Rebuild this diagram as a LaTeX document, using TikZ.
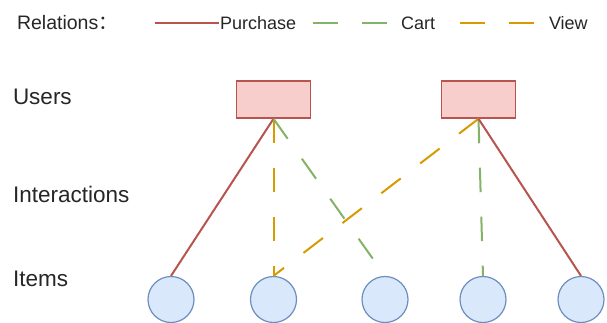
\documentclass[tikz,border=0pt]{standalone}
\usepackage{fontspec}
\setmainfont{Liberation Sans}
\newfontfamily\cjkfont{Noto Sans CJK SC}
\usetikzlibrary{positioning}
\definecolor{purchasered}{HTML}{B85450}
\definecolor{userfill}{HTML}{F8CECC}
\definecolor{cartgreen}{HTML}{82B366}
\definecolor{viewyellow}{HTML}{D79B00}
\definecolor{itemblue}{HTML}{6C8EBF}
\definecolor{itemfill}{HTML}{DAE8FC}
\begin{document}
\begin{tikzpicture}[
  x=1pt, y=-1pt,
  line width=2pt,
  user/.style={draw=purchasered, fill=userfill, line width=1.5pt,
    minimum width=74pt, minimum height=37pt, inner sep=0pt},
  item/.style={circle, draw=itemblue, fill=itemfill, line width=1.2pt,
    minimum size=46pt, inner sep=0pt},
  level/.style={anchor=west, inner sep=0pt, text=black!85,
    font=\fontsize{22.5}{26}\selectfont},
  legend/.style={anchor=west, inner sep=0pt, text=black!85,
    font=\fontsize{18}{22}\selectfont},
  purchase/.style={draw=purchasered},
  cart/.style={draw=cartgreen, dash pattern=on 24.5pt off 24.5pt},
  view/.style={draw=viewyellow, dash pattern=on 24.5pt off 24.5pt},
]
\useasboundingbox (0,0) rectangle (607,322);

% legend
\node[anchor=west, inner sep=0pt, text=black!85, font=\fontsize{19.5}{23}\selectfont]
  (relations) at (16,23) {Relations{\cjkfont ：}};
\coordinate (purchasestart) at (155,23);
\node[legend] (purchasetext) at (219,23) {Purchase};
\draw[purchase] (purchasestart) -- (purchasetext.west);
\coordinate (cartstart) at (313,23);
\coordinate (cartend) at (387,23);
\draw[cart] (cartstart) -- (cartend);
\node[legend] (carttext) at (400,23) {Cart};
\coordinate (viewstart) at (460,23);
\coordinate (viewend) at (534,23);
\draw[view] (viewstart) -- (viewend);
\node[legend] (viewtext) at (548,23) {View};

% levels
\node[level] (users) at (12,97) {Users};
\node[level] (interactions) at (12,194) {Interactions};
\node[level] (items) at (12,279) {Items};

% users and items
\node[user] (user1) at (273.5,99.5) {};
\node[user] (user2) at (478.5,99.5) {};
\foreach \x [count=\i] in {171,273.5,385,483,581} {
  \node[item] (item\i) at (\x,299.5) {};
}

% relations
\draw[purchase] (user1.south) -- (item1.north);
\draw[view] (user1.south) -- (item2.north);
\draw[cart] (user1.south) -- (item3.north);
\draw[view] (user2.south) -- (item2.north);
\draw[cart] (user2.south) -- (item4.north);
\draw[purchase] (user2.south) -- (item5.north);

\end{tikzpicture}
\end{document}
